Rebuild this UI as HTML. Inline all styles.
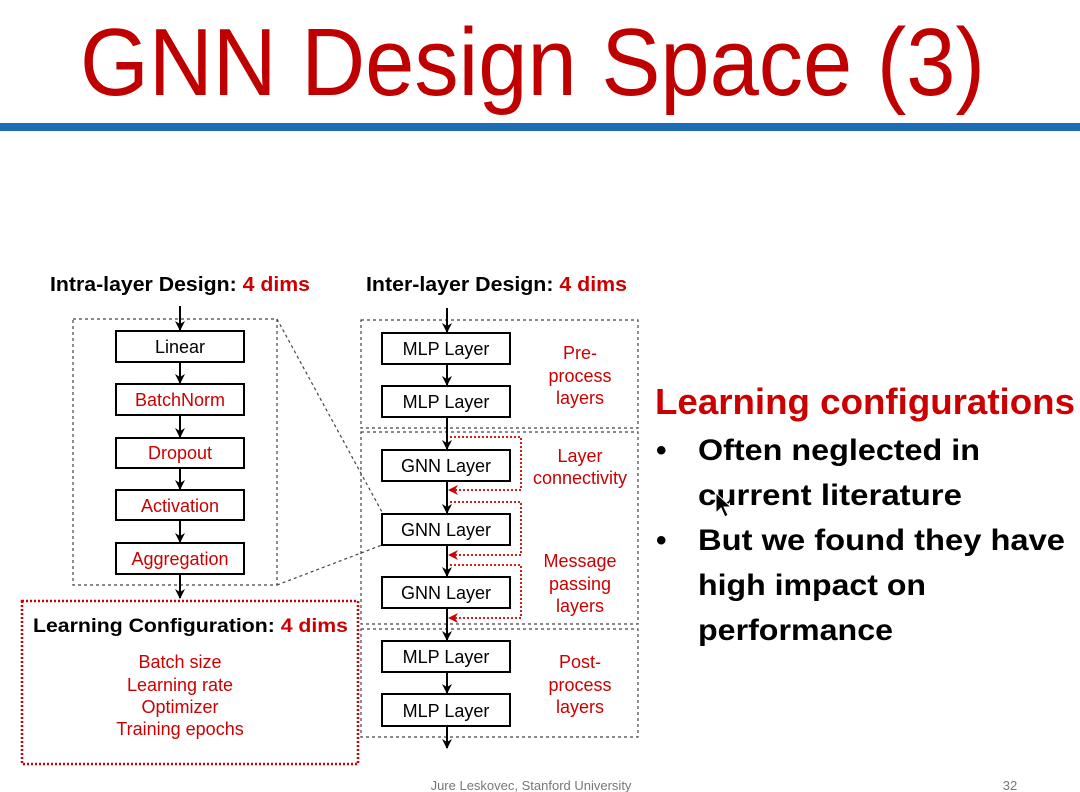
<!DOCTYPE html>
<html><head><style>
body{margin:0;width:1080px;height:792px;background:#fff;overflow:hidden}
svg{display:block}
text{font-family:"Liberation Sans",sans-serif}
</style></head><body>
<svg width="1080" height="792" viewBox="0 0 1080 792">
<defs>
<marker id="a" markerWidth="10" markerHeight="10" refX="9" refY="5" orient="auto" markerUnits="userSpaceOnUse"><path d="M0,0 L10,5 L0,10 L3,5z" fill="#000"/></marker>
<marker id="r" markerWidth="10" markerHeight="10" refX="9" refY="5" orient="auto" markerUnits="userSpaceOnUse"><path d="M0,0 L10,5 L0,10 L3,5z" fill="#c00"/></marker>
</defs>
<text x="80" y="95" font-size="96" fill="#c00000" textLength="905" lengthAdjust="spacingAndGlyphs">GNN Design Space (3)</text>
<rect x="0" y="123" width="1080" height="8" fill="#1c6db5"/>

<text x="50" y="291" font-size="20" font-weight="bold" textLength="260" lengthAdjust="spacingAndGlyphs">Intra-layer Design: <tspan fill="#c00">4 dims</tspan></text>
<text x="366" y="291" font-size="20" font-weight="bold" textLength="261" lengthAdjust="spacingAndGlyphs">Inter-layer Design: <tspan fill="#c00">4 dims</tspan></text>

<g fill="none" stroke="#444" stroke-width="1.2" stroke-dasharray="3,3">
<rect x="73" y="319" width="204" height="266"/>
<rect x="361" y="320" width="277" height="108"/>
<rect x="361" y="432" width="277" height="192"/>
<rect x="361" y="629" width="277" height="108"/>
<line x1="277" y1="319" x2="382" y2="512"/>
<line x1="277" y1="585" x2="382" y2="545"/>
</g>
<rect x="22" y="601" width="336" height="163" fill="none" stroke="#c00" stroke-width="2.5" stroke-dasharray="2,2"/>

<g stroke="#000" stroke-width="2" fill="#fff">
<rect x="116" y="331" width="128" height="31"/>
<rect x="116" y="384" width="128" height="31"/>
<rect x="116" y="438" width="128" height="30"/>
<rect x="116" y="490" width="128" height="30"/>
<rect x="116" y="543" width="128" height="31"/>
<rect x="382" y="333" width="128" height="31"/>
<rect x="382" y="386" width="128" height="31"/>
<rect x="382" y="450" width="128" height="31"/>
<rect x="382" y="514" width="128" height="31"/>
<rect x="382" y="577" width="128" height="31"/>
<rect x="382" y="641" width="128" height="31"/>
<rect x="382" y="694" width="128" height="32"/>
</g>
<g stroke="#000" stroke-width="2" marker-end="url(#a)">
<line x1="180" y1="306" x2="180" y2="330"/>
<line x1="180" y1="362" x2="180" y2="383"/>
<line x1="180" y1="415" x2="180" y2="437"/>
<line x1="180" y1="468" x2="180" y2="489"/>
<line x1="180" y1="520" x2="180" y2="542"/>
<line x1="180" y1="574" x2="180" y2="598"/>
<line x1="447" y1="308" x2="447" y2="332"/>
<line x1="447" y1="364" x2="447" y2="385"/>
<line x1="447" y1="417" x2="447" y2="449"/>
<line x1="447" y1="481" x2="447" y2="513"/>
<line x1="447" y1="545" x2="447" y2="576"/>
<line x1="447" y1="608" x2="447" y2="640"/>
<line x1="447" y1="672" x2="447" y2="693"/>
<line x1="447" y1="726" x2="447" y2="748"/>
</g>
<g stroke="#c00" stroke-width="1.8" stroke-dasharray="2,2" fill="none" marker-end="url(#r)">
<polyline points="450,437 521,437 521,490 449,490"/>
<polyline points="450,502 521,502 521,555 449,555"/>
<polyline points="450,565 521,565 521,618 449,618"/>
</g>

<g font-size="18" text-anchor="middle">
<text x="180" y="353">Linear</text>
<text x="180" y="406" fill="#c00">BatchNorm</text>
<text x="180" y="459" fill="#c00">Dropout</text>
<text x="180" y="512" fill="#c00">Activation</text>
<text x="180" y="565" fill="#c00">Aggregation</text>
<text x="446" y="355">MLP Layer</text>
<text x="446" y="408">MLP Layer</text>
<text x="446" y="472">GNN Layer</text>
<text x="446" y="536">GNN Layer</text>
<text x="446" y="599">GNN Layer</text>
<text x="446" y="663">MLP Layer</text>
<text x="446" y="717">MLP Layer</text>
<g fill="#c00">
<text x="580" y="359">Pre-</text><text x="580" y="382">process</text><text x="580" y="404">layers</text>
<text x="580" y="462">Layer</text><text x="580" y="484">connectivity</text>
<text x="580" y="567">Message</text><text x="580" y="590">passing</text><text x="580" y="612">layers</text>
<text x="580" y="668">Post-</text><text x="580" y="691">process</text><text x="580" y="713">layers</text>
<text x="180" y="668">Batch size</text><text x="180" y="691">Learning rate</text><text x="180" y="713">Optimizer</text><text x="180" y="735">Training epochs</text>
</g>
</g>
<text x="33" y="632" font-size="19" font-weight="bold" textLength="315" lengthAdjust="spacingAndGlyphs">Learning Configuration: <tspan fill="#c00">4 dims</tspan></text>

<text x="655" y="414" font-size="36" font-weight="bold" fill="#c00" textLength="420" lengthAdjust="spacingAndGlyphs">Learning configurations</text>
<g font-size="30" font-weight="bold">
<text x="656" y="460">•</text>
<text x="698" y="460" textLength="282" lengthAdjust="spacingAndGlyphs">Often neglected in</text>
<text x="698" y="505" textLength="264" lengthAdjust="spacingAndGlyphs">current literature</text>
<text x="656" y="550">•</text>
<text x="698" y="550" textLength="367" lengthAdjust="spacingAndGlyphs">But we found they have</text>
<text x="698" y="595" textLength="228" lengthAdjust="spacingAndGlyphs">high impact on</text>
<text x="698" y="640" textLength="195" lengthAdjust="spacingAndGlyphs">performance</text>
</g>
<path d="M716,493 L716,513 L721,508 L725,517 L728,515 L724,507 L731,507z" fill="#000" stroke="#fff" stroke-width="1"/>
<text x="531" y="790" font-size="13" fill="#777" text-anchor="middle">Jure Leskovec, Stanford University</text>
<text x="1010" y="790" font-size="13" fill="#777" text-anchor="middle">32</text>
</svg>
</body></html>
